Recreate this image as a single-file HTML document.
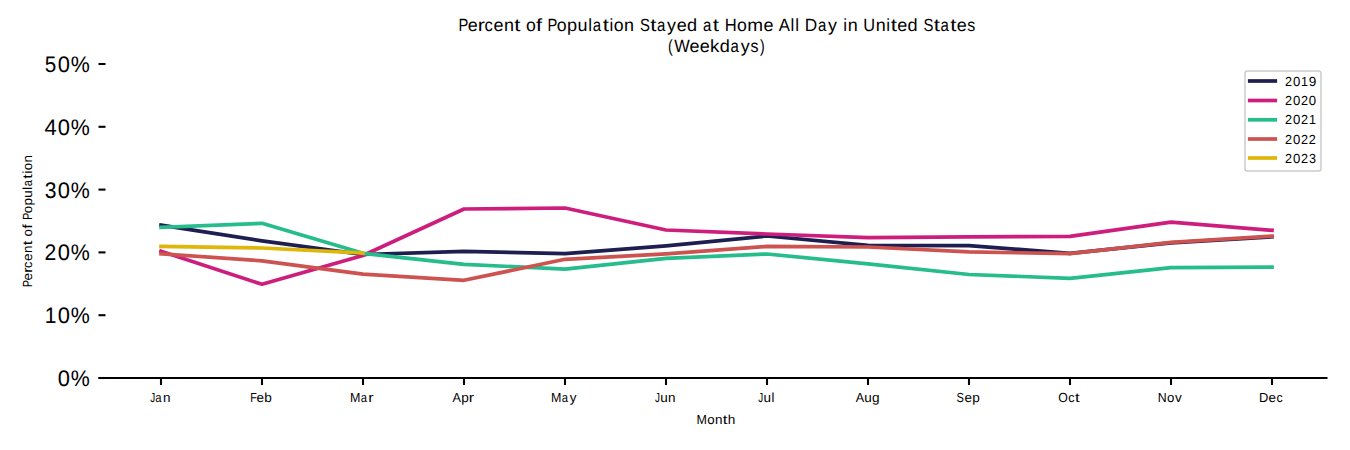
<!DOCTYPE html>
<html><head><meta charset="utf-8"><title>Percent of Population Stayed at Home All Day in United States</title>
<style>
html,body{margin:0;padding:0;background:#fff;}
body{width:1350px;height:450px;overflow:hidden;font-family:"Liberation Sans", sans-serif;}
svg{display:block;}
</style></head>
<body>
<svg width="1350" height="450" viewBox="0 0 1350 450" font-family="Liberation Sans, sans-serif" fill="#000" text-rendering="geometricPrecision">
<rect width="1350" height="450" fill="#fff"/>
<g><text transform="translate(463.57,30.70) scale(0.835,1)" x="-6.15" font-size="17.66">P</text><text transform="translate(472.65,30.70) scale(1.019,1)" x="-4.89" font-size="17.66">e</text><text transform="translate(481.94,30.70) scale(1.209,1)" x="-3.38" font-size="17.66">r</text><text transform="translate(488.78,30.70) scale(0.947,1)" x="-4.56" font-size="17.66">c</text><text transform="translate(498.53,30.70) scale(1.019,1)" x="-4.89" font-size="17.66">e</text><text transform="translate(508.97,30.70) scale(1.018,1)" x="-4.92" font-size="17.66">n</text><text transform="translate(517.43,30.70) scale(1.261,1)" x="-2.52" font-size="17.66">t</text><text transform="translate(530.99,30.70) scale(1.003,1)" x="-4.91" font-size="17.66">o</text><text transform="translate(539.29,30.70) scale(1.239,1)" x="-2.59" font-size="17.66">f</text><text transform="translate(552.69,30.70) scale(0.835,1)" x="-6.15" font-size="17.66">P</text><text transform="translate(561.74,30.70) scale(1.003,1)" x="-4.91" font-size="17.66">o</text><text transform="translate(572.35,30.70) scale(1.027,1)" x="-5.11" font-size="17.66">p</text><text transform="translate(582.49,30.70) scale(1.018,1)" x="-4.90" font-size="17.66">u</text><text transform="translate(590.08,30.70) scale(0.965,1)" x="-1.97" font-size="17.66">l</text><text transform="translate(597.24,30.70) scale(0.849,1)" x="-5.29" font-size="17.66">a</text><text transform="translate(605.80,30.70) scale(1.261,1)" x="-2.52" font-size="17.66">t</text><text transform="translate(611.33,30.70) scale(0.965,1)" x="-1.96" font-size="17.66">i</text><text transform="translate(618.74,30.70) scale(1.003,1)" x="-4.91" font-size="17.66">o</text><text transform="translate(629.09,30.70) scale(1.018,1)" x="-4.92" font-size="17.66">n</text><text transform="translate(644.89,30.70) scale(0.841,1)" x="-5.89" font-size="17.66">S</text><text transform="translate(653.30,30.70) scale(1.261,1)" x="-2.52" font-size="17.66">t</text><text transform="translate(661.36,30.70) scale(0.849,1)" x="-5.29" font-size="17.66">a</text><text transform="translate(671.57,30.70) scale(1.013,1)" x="-4.42" font-size="17.66">y</text><text transform="translate(681.65,30.70) scale(1.019,1)" x="-4.89" font-size="17.66">e</text><text transform="translate(691.75,30.70) scale(1.026,1)" x="-4.71" font-size="17.66">d</text><text transform="translate(707.36,30.70) scale(0.849,1)" x="-5.29" font-size="17.66">a</text><text transform="translate(715.93,30.70) scale(1.261,1)" x="-2.52" font-size="17.66">t</text><text transform="translate(730.65,30.70) scale(0.939,1)" x="-6.38" font-size="17.66">H</text><text transform="translate(741.99,30.70) scale(1.003,1)" x="-4.91" font-size="17.66">o</text><text transform="translate(755.18,30.70) scale(1.075,1)" x="-7.36" font-size="17.66">m</text><text transform="translate(768.40,30.70) scale(1.019,1)" x="-4.89" font-size="17.66">e</text><text transform="translate(784.46,30.70) scale(0.951,1)" x="-5.89" font-size="17.66">A</text><text transform="translate(792.45,30.70) scale(0.965,1)" x="-1.97" font-size="17.66">l</text><text transform="translate(797.08,30.70) scale(0.965,1)" x="-1.97" font-size="17.66">l</text><text transform="translate(811.38,30.70) scale(0.976,1)" x="-6.68" font-size="17.66">D</text><text transform="translate(822.36,30.70) scale(0.849,1)" x="-5.29" font-size="17.66">a</text><text transform="translate(832.57,30.70) scale(1.013,1)" x="-4.42" font-size="17.66">y</text><text transform="translate(845.08,30.70) scale(0.965,1)" x="-1.96" font-size="17.66">i</text><text transform="translate(852.72,30.70) scale(1.018,1)" x="-4.92" font-size="17.66">n</text><text transform="translate(869.23,30.70) scale(0.928,1)" x="-6.38" font-size="17.66">U</text><text transform="translate(880.72,30.70) scale(1.018,1)" x="-4.92" font-size="17.66">n</text><text transform="translate(888.20,30.70) scale(0.965,1)" x="-1.96" font-size="17.66">i</text><text transform="translate(893.80,30.70) scale(1.261,1)" x="-2.52" font-size="17.66">t</text><text transform="translate(902.15,30.70) scale(1.019,1)" x="-4.89" font-size="17.66">e</text><text transform="translate(912.25,30.70) scale(1.026,1)" x="-4.71" font-size="17.66">d</text><text transform="translate(928.39,30.70) scale(0.841,1)" x="-5.89" font-size="17.66">S</text><text transform="translate(936.80,30.70) scale(1.261,1)" x="-2.52" font-size="17.66">t</text><text transform="translate(944.86,30.70) scale(0.849,1)" x="-5.29" font-size="17.66">a</text><text transform="translate(953.43,30.70) scale(1.261,1)" x="-2.52" font-size="17.66">t</text><text transform="translate(961.78,30.70) scale(1.019,1)" x="-4.89" font-size="17.66">e</text><text transform="translate(971.27,30.70) scale(0.905,1)" x="-4.34" font-size="17.66">s</text></g>
<g><text transform="translate(670.76,51.60) scale(0.798,1)" x="-3.44" font-size="17.66">(</text><text transform="translate(682.08,51.60) scale(0.930,1)" x="-8.34" font-size="17.66">W</text><text transform="translate(694.48,51.60) scale(1.019,1)" x="-4.89" font-size="17.66">e</text><text transform="translate(704.73,51.60) scale(1.019,1)" x="-4.89" font-size="17.66">e</text><text transform="translate(715.39,51.60) scale(1.055,1)" x="-5.02" font-size="17.66">k</text><text transform="translate(724.58,51.60) scale(1.026,1)" x="-4.71" font-size="17.66">d</text><text transform="translate(734.94,51.60) scale(0.849,1)" x="-5.29" font-size="17.66">a</text><text transform="translate(745.14,51.60) scale(1.013,1)" x="-4.42" font-size="17.66">y</text><text transform="translate(754.47,51.60) scale(0.905,1)" x="-4.34" font-size="17.66">s</text><text transform="translate(762.04,51.60) scale(0.798,1)" x="-2.44" font-size="17.66">)</text></g>
<line x1="98.5" y1="378.00" x2="105.5" y2="378.00" stroke="#000" stroke-width="2.08"/>
<g><text transform="translate(63.83,386.00) scale(0.975,1)" x="-6.26" font-size="22.52">0</text><text transform="translate(80.35,386.00) scale(0.950,1)" x="-10.01" font-size="22.52">%</text></g>
<line x1="98.5" y1="315.20" x2="105.5" y2="315.20" stroke="#000" stroke-width="2.08"/>
<g><text transform="translate(50.76,323.00) scale(0.932,1)" x="-6.57" font-size="22.52">1</text><text transform="translate(63.83,323.00) scale(0.975,1)" x="-6.26" font-size="22.52">0</text><text transform="translate(80.35,323.00) scale(0.950,1)" x="-10.01" font-size="22.52">%</text></g>
<line x1="98.5" y1="252.40" x2="105.5" y2="252.40" stroke="#000" stroke-width="2.08"/>
<g><text transform="translate(50.30,260.00) scale(0.940,1)" x="-6.26" font-size="22.52">2</text><text transform="translate(63.83,260.00) scale(0.975,1)" x="-6.26" font-size="22.52">0</text><text transform="translate(80.35,260.00) scale(0.950,1)" x="-10.01" font-size="22.52">%</text></g>
<line x1="98.5" y1="189.60" x2="105.5" y2="189.60" stroke="#000" stroke-width="2.08"/>
<g><text transform="translate(50.54,198.00) scale(0.937,1)" x="-6.20" font-size="22.52">3</text><text transform="translate(63.83,198.00) scale(0.975,1)" x="-6.26" font-size="22.52">0</text><text transform="translate(80.35,198.00) scale(0.950,1)" x="-10.01" font-size="22.52">%</text></g>
<line x1="98.5" y1="126.80" x2="105.5" y2="126.80" stroke="#000" stroke-width="2.08"/>
<g><text transform="translate(50.50,135.00) scale(0.975,1)" x="-6.19" font-size="22.52">4</text><text transform="translate(63.83,135.00) scale(0.975,1)" x="-6.26" font-size="22.52">0</text><text transform="translate(80.35,135.00) scale(0.950,1)" x="-10.01" font-size="22.52">%</text></g>
<line x1="98.5" y1="64.00" x2="105.5" y2="64.00" stroke="#000" stroke-width="2.08"/>
<g><text transform="translate(50.47,72.00) scale(0.920,1)" x="-6.24" font-size="22.52">5</text><text transform="translate(63.83,72.00) scale(0.975,1)" x="-6.26" font-size="22.52">0</text><text transform="translate(80.35,72.00) scale(0.950,1)" x="-10.01" font-size="22.52">%</text></g>
<line x1="98.5" y1="378.0" x2="1327.5" y2="378.0" stroke="#000" stroke-width="2.08"/>
<line x1="161.00" y1="378.0" x2="161.00" y2="385" stroke="#000" stroke-width="2.08"/>
<g><text transform="translate(152.31,401.60) scale(0.750,1)" x="-2.92" font-size="13.24">J</text><text transform="translate(158.67,401.60) scale(0.849,1)" x="-3.96" font-size="13.24">a</text><text transform="translate(166.78,401.60) scale(1.018,1)" x="-3.69" font-size="13.24">n</text></g>
<line x1="262.00" y1="378.0" x2="262.00" y2="385" stroke="#000" stroke-width="2.08"/>
<g><text transform="translate(253.68,401.60) scale(0.809,1)" x="-4.32" font-size="13.24">F</text><text transform="translate(260.19,401.60) scale(1.019,1)" x="-3.67" font-size="13.24">e</text><text transform="translate(268.28,401.60) scale(1.027,1)" x="-3.83" font-size="13.24">b</text></g>
<line x1="363.00" y1="378.0" x2="363.00" y2="385" stroke="#000" stroke-width="2.08"/>
<g><text transform="translate(355.16,401.60) scale(0.941,1)" x="-5.52" font-size="13.24">M</text><text transform="translate(364.15,401.60) scale(0.849,1)" x="-3.96" font-size="13.24">a</text><text transform="translate(371.40,401.60) scale(1.209,1)" x="-2.54" font-size="13.24">r</text></g>
<line x1="464.00" y1="378.0" x2="464.00" y2="385" stroke="#000" stroke-width="2.08"/>
<g><text transform="translate(456.67,401.60) scale(0.951,1)" x="-4.42" font-size="13.24">A</text><text transform="translate(465.09,401.60) scale(1.027,1)" x="-3.83" font-size="13.24">p</text><text transform="translate(471.91,401.60) scale(1.209,1)" x="-2.54" font-size="13.24">r</text></g>
<line x1="565.00" y1="378.0" x2="565.00" y2="385" stroke="#000" stroke-width="2.08"/>
<g><text transform="translate(556.22,401.60) scale(0.941,1)" x="-5.52" font-size="13.24">M</text><text transform="translate(565.21,401.60) scale(0.849,1)" x="-3.96" font-size="13.24">a</text><text transform="translate(573.02,401.60) scale(1.013,1)" x="-3.31" font-size="13.24">y</text></g>
<line x1="666.00" y1="378.0" x2="666.00" y2="385" stroke="#000" stroke-width="2.08"/>
<g><text transform="translate(657.25,401.60) scale(0.750,1)" x="-2.92" font-size="13.24">J</text><text transform="translate(663.89,401.60) scale(1.018,1)" x="-3.67" font-size="13.24">u</text><text transform="translate(671.84,401.60) scale(1.018,1)" x="-3.69" font-size="13.24">n</text></g>
<line x1="767.00" y1="378.0" x2="767.00" y2="385" stroke="#000" stroke-width="2.08"/>
<g><text transform="translate(760.53,401.60) scale(0.750,1)" x="-2.92" font-size="13.24">J</text><text transform="translate(767.17,401.60) scale(1.018,1)" x="-3.67" font-size="13.24">u</text><text transform="translate(772.86,401.60) scale(0.965,1)" x="-1.47" font-size="13.24">l</text></g>
<line x1="868.00" y1="378.0" x2="868.00" y2="385" stroke="#000" stroke-width="2.08"/>
<g><text transform="translate(859.84,401.60) scale(0.951,1)" x="-4.42" font-size="13.24">A</text><text transform="translate(867.99,401.60) scale(1.018,1)" x="-3.67" font-size="13.24">u</text><text transform="translate(875.68,401.60) scale(1.026,1)" x="-3.53" font-size="13.24">g</text></g>
<line x1="969.00" y1="378.0" x2="969.00" y2="385" stroke="#000" stroke-width="2.08"/>
<g><text transform="translate(960.32,401.60) scale(0.841,1)" x="-4.41" font-size="13.24">S</text><text transform="translate(968.14,401.60) scale(1.019,1)" x="-3.67" font-size="13.24">e</text><text transform="translate(976.23,401.60) scale(1.027,1)" x="-3.83" font-size="13.24">p</text></g>
<line x1="1070.00" y1="378.0" x2="1070.00" y2="385" stroke="#000" stroke-width="2.08"/>
<g><text transform="translate(1063.03,401.60) scale(0.933,1)" x="-5.15" font-size="13.24">O</text><text transform="translate(1071.38,401.60) scale(0.947,1)" x="-3.42" font-size="13.24">c</text><text transform="translate(1077.45,401.60) scale(1.261,1)" x="-1.89" font-size="13.24">t</text></g>
<line x1="1171.00" y1="378.0" x2="1171.00" y2="385" stroke="#000" stroke-width="2.08"/>
<g><text transform="translate(1162.25,401.60) scale(0.932,1)" x="-4.79" font-size="13.24">N</text><text transform="translate(1170.78,401.60) scale(1.003,1)" x="-3.68" font-size="13.24">o</text><text transform="translate(1178.27,401.60) scale(1.019,1)" x="-3.31" font-size="13.24">v</text></g>
<line x1="1272.00" y1="378.0" x2="1272.00" y2="385" stroke="#000" stroke-width="2.08"/>
<g><text transform="translate(1263.91,401.60) scale(0.976,1)" x="-5.01" font-size="13.24">D</text><text transform="translate(1272.33,401.60) scale(1.019,1)" x="-3.67" font-size="13.24">e</text><text transform="translate(1279.62,401.60) scale(0.947,1)" x="-3.42" font-size="13.24">c</text></g>
<g><text transform="translate(701.79,423.90) scale(0.941,1)" x="-5.52" font-size="13.24">M</text><text transform="translate(710.97,423.90) scale(1.003,1)" x="-3.68" font-size="13.24">o</text><text transform="translate(718.77,423.90) scale(1.018,1)" x="-3.69" font-size="13.24">n</text><text transform="translate(725.11,423.90) scale(1.261,1)" x="-1.89" font-size="13.24">t</text><text transform="translate(731.52,423.90) scale(1.025,1)" x="-3.71" font-size="13.24">h</text></g>
<g transform="translate(32,0) rotate(-90)"><g><text transform="translate(-283.51,0.00) scale(0.835,1)" x="-4.61" font-size="13.24">P</text><text transform="translate(-276.82,0.00) scale(1.019,1)" x="-3.67" font-size="13.24">e</text><text transform="translate(-269.79,0.00) scale(1.209,1)" x="-2.54" font-size="13.24">r</text><text transform="translate(-264.66,0.00) scale(0.947,1)" x="-3.42" font-size="13.24">c</text><text transform="translate(-257.20,0.00) scale(1.019,1)" x="-3.67" font-size="13.24">e</text><text transform="translate(-249.31,0.00) scale(1.018,1)" x="-3.69" font-size="13.24">n</text><text transform="translate(-242.96,0.00) scale(1.261,1)" x="-1.89" font-size="13.24">t</text><text transform="translate(-232.73,0.00) scale(1.003,1)" x="-3.68" font-size="13.24">o</text><text transform="translate(-226.47,0.00) scale(1.239,1)" x="-1.94" font-size="13.24">f</text><text transform="translate(-216.26,0.00) scale(0.835,1)" x="-4.61" font-size="13.24">P</text><text transform="translate(-209.60,0.00) scale(1.003,1)" x="-3.68" font-size="13.24">o</text><text transform="translate(-201.61,0.00) scale(1.027,1)" x="-3.83" font-size="13.24">p</text><text transform="translate(-194.01,0.00) scale(1.018,1)" x="-3.67" font-size="13.24">u</text><text transform="translate(-188.32,0.00) scale(0.965,1)" x="-1.47" font-size="13.24">l</text><text transform="translate(-182.92,0.00) scale(0.849,1)" x="-3.96" font-size="13.24">a</text><text transform="translate(-176.34,0.00) scale(1.261,1)" x="-1.89" font-size="13.24">t</text><text transform="translate(-172.19,0.00) scale(0.965,1)" x="-1.47" font-size="13.24">i</text><text transform="translate(-166.60,0.00) scale(1.003,1)" x="-3.68" font-size="13.24">o</text><text transform="translate(-158.81,0.00) scale(1.018,1)" x="-3.69" font-size="13.24">n</text></g></g>
<polyline points="161.00,225.20 262.00,240.90 363.00,254.50 464.00,251.30 565.00,253.60 666.00,245.80 767.00,236.00 868.00,245.30 969.00,245.60 1070.00,253.30 1171.00,242.80 1272.00,236.80" fill="none" stroke="#1e1f50" stroke-width="3.7" stroke-linecap="square" stroke-linejoin="round"/>
<polyline points="161.00,251.20 262.00,284.30 363.00,255.50 464.00,209.00 565.00,208.00 666.00,230.00 767.00,234.00 868.00,237.70 969.00,236.80 1070.00,236.30 1171.00,222.20 1272.00,230.30" fill="none" stroke="#cd1e7d" stroke-width="3.7" stroke-linecap="square" stroke-linejoin="round"/>
<polyline points="161.00,227.30 262.00,223.30 363.00,253.30 464.00,264.30 565.00,269.10 666.00,258.40 767.00,254.00 868.00,263.80 969.00,274.50 1070.00,278.30 1171.00,267.70 1272.00,267.10" fill="none" stroke="#26bc8c" stroke-width="3.7" stroke-linecap="square" stroke-linejoin="round"/>
<polyline points="161.00,253.80 262.00,260.80 363.00,274.20 464.00,280.30 565.00,259.30 666.00,253.90 767.00,246.40 868.00,247.00 969.00,251.90 1070.00,253.70 1171.00,242.40 1272.00,236.20" fill="none" stroke="#cc5350" stroke-width="3.7" stroke-linecap="square" stroke-linejoin="round"/>
<polyline points="161.00,246.40 262.00,248.00 363.00,253.00" fill="none" stroke="#dfb60a" stroke-width="3.7" stroke-linecap="square" stroke-linejoin="round"/>
<rect x="1245" y="71" width="76" height="100" rx="2.5" ry="2.5" fill="#fff" fill-opacity="0.8" stroke="#cccccc" stroke-width="1.5"/>
<line x1="1249.75" y1="81.0" x2="1275.25" y2="81.0" stroke="#1e1f50" stroke-width="3.7" stroke-linecap="square"/>
<g><text transform="translate(1288.59,85.50) scale(0.959,1)" x="-3.68" font-size="13.24">2</text><text transform="translate(1296.63,85.50) scale(0.995,1)" x="-3.68" font-size="13.24">0</text><text transform="translate(1304.75,85.50) scale(0.950,1)" x="-3.86" font-size="13.24">1</text><text transform="translate(1312.47,85.50) scale(1.028,1)" x="-3.68" font-size="13.24">9</text></g>
<line x1="1249.75" y1="100.5" x2="1275.25" y2="100.5" stroke="#cd1e7d" stroke-width="3.7" stroke-linecap="square"/>
<g><text transform="translate(1288.59,105.00) scale(0.959,1)" x="-3.68" font-size="13.24">2</text><text transform="translate(1296.63,105.00) scale(0.995,1)" x="-3.68" font-size="13.24">0</text><text transform="translate(1304.47,105.00) scale(0.959,1)" x="-3.68" font-size="13.24">2</text><text transform="translate(1312.51,105.00) scale(0.995,1)" x="-3.68" font-size="13.24">0</text></g>
<line x1="1249.75" y1="119.8" x2="1275.25" y2="119.8" stroke="#26bc8c" stroke-width="3.7" stroke-linecap="square"/>
<g><text transform="translate(1288.59,124.30) scale(0.959,1)" x="-3.68" font-size="13.24">2</text><text transform="translate(1296.63,124.30) scale(0.995,1)" x="-3.68" font-size="13.24">0</text><text transform="translate(1304.47,124.30) scale(0.959,1)" x="-3.68" font-size="13.24">2</text><text transform="translate(1312.62,124.30) scale(0.950,1)" x="-3.86" font-size="13.24">1</text></g>
<line x1="1249.75" y1="139.0" x2="1275.25" y2="139.0" stroke="#cc5350" stroke-width="3.7" stroke-linecap="square"/>
<g><text transform="translate(1288.59,143.50) scale(0.959,1)" x="-3.68" font-size="13.24">2</text><text transform="translate(1296.63,143.50) scale(0.995,1)" x="-3.68" font-size="13.24">0</text><text transform="translate(1304.47,143.50) scale(0.959,1)" x="-3.68" font-size="13.24">2</text><text transform="translate(1312.34,143.50) scale(0.959,1)" x="-3.68" font-size="13.24">2</text></g>
<line x1="1249.75" y1="158.0" x2="1275.25" y2="158.0" stroke="#dfb60a" stroke-width="3.7" stroke-linecap="square"/>
<g><text transform="translate(1288.59,162.50) scale(0.959,1)" x="-3.68" font-size="13.24">2</text><text transform="translate(1296.63,162.50) scale(0.995,1)" x="-3.68" font-size="13.24">0</text><text transform="translate(1304.47,162.50) scale(0.959,1)" x="-3.68" font-size="13.24">2</text><text transform="translate(1312.49,162.50) scale(0.955,1)" x="-3.64" font-size="13.24">3</text></g>
</svg>
</body></html>
